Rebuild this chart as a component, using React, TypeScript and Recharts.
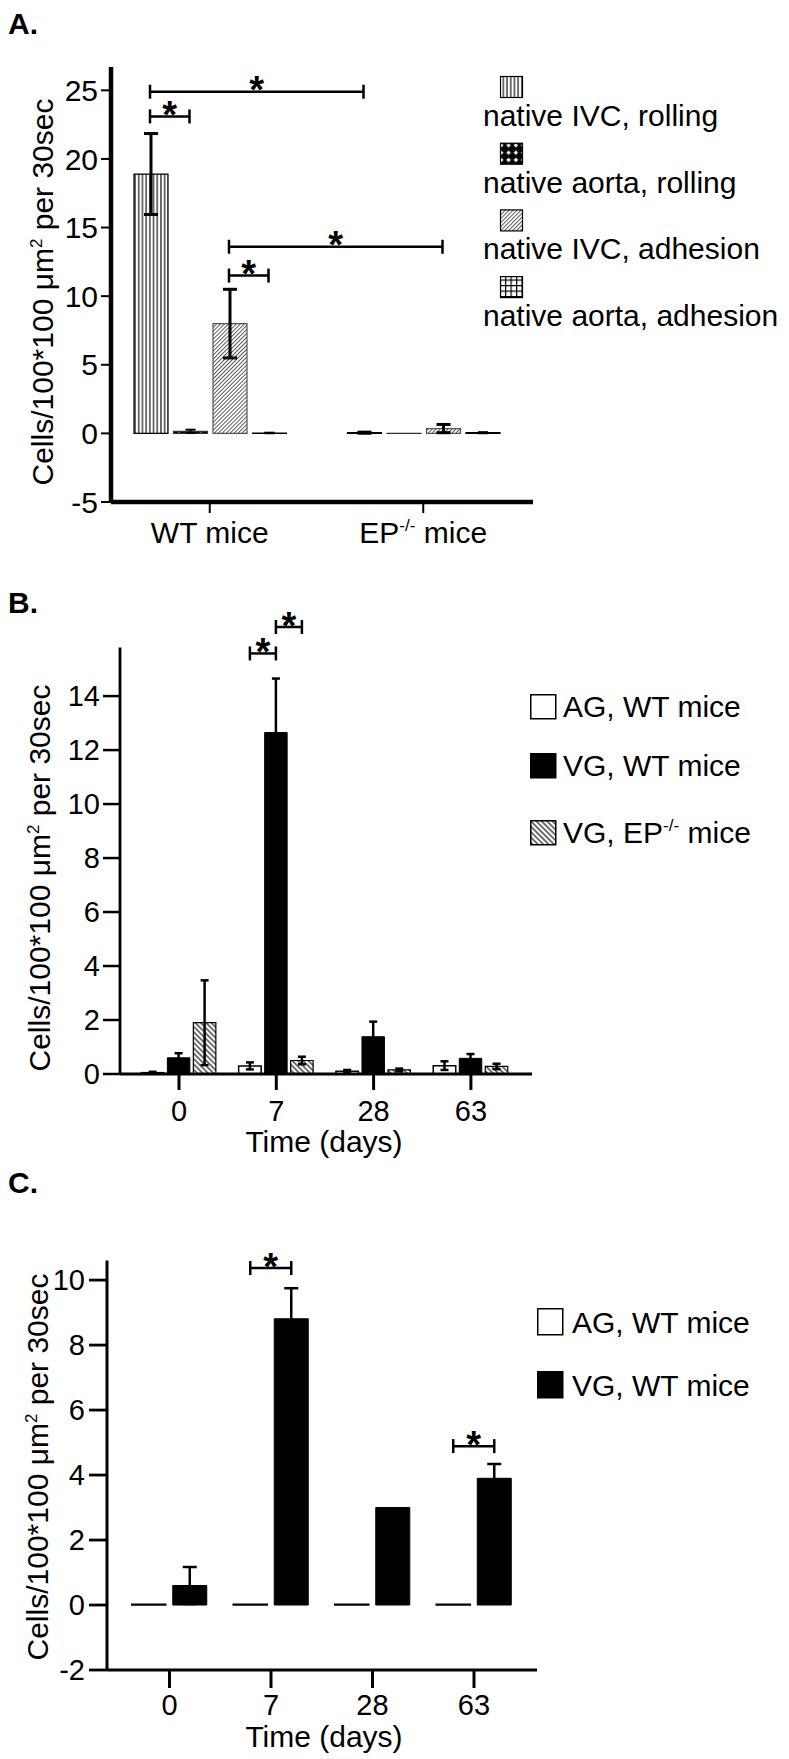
import React from 'react';
import { BarChart, Bar, XAxis, YAxis, ErrorBar, Legend } from 'recharts';

const FONT = '"Liberation Sans", Arial, Helvetica, sans-serif';
const PAGE_W = 789;
const PAGE_H = 1759;

// ---- panel A: native vessels ----
const groupsA = ['WT mice', 'EP-/- mice'];
const ivcRolling = [18.9, 0.05];
const ivcRollingErr = [2.95, 0.04];
const aortaRolling = [0.15, 0.01];
const aortaRollingErr = [0.12, 0];
const ivcAdhesion = [8.0, 0.35];
const ivcAdhesionErr = [2.5, 0.3];
const aortaAdhesion = [0.03, 0.05];
const aortaAdhesionErr = [0.02, 0.04];
const ticksA = [-5, 0, 5, 10, 15, 20, 25];

// ---- panel B: grafts, WT vs EP-/- ----
const days = ['0', '7', '28', '63'];
const agWT = [0.05, 0.3, 0.1, 0.31];
const agWTErr = [0.03, 0.13, 0.05, 0.16];
const vgWT = [0.6, 12.65, 1.38, 0.58];
const vgWTErr = [0.17, 2.0, 0.56, 0.16];
const vgEP = [1.9, 0.5, 0.15, 0.28];
const vgEPErr = [1.57, 0.14, 0.05, 0.1];
const ticksB = [0, 2, 4, 6, 8, 10, 12, 14];

// ---- panel C: grafts, WT only ----
const agWTC = [0.02, 0.02, 0.02, 0.02];
const vgWTC = [0.6, 8.81, 3.0, 3.9];
const vgWTCErr = [0.57, 0.94, 0, 0.44];
const ticksC = [-2, 0, 2, 4, 6, 8, 10];

// significance brackets: [category, bar] -> [category, bar] at a value level
const bracketsA = [
  { from: [0, 0], to: [1, 0], level: 24.9 },
  { from: [0, 0], to: [0, 1], level: 23.1 },
  { from: [0, 2], to: [1, 2], level: 13.6 },
  { from: [0, 2], to: [0, 3], level: 11.5 },
];
const bracketsB = [
  { from: [1, 0], to: [1, 1], level: 15.58 },
  { from: [1, 1], to: [1, 2], level: 16.56 },
];
const bracketsC = [
  { from: [1, 0], to: [1, 1], level: 10.37 },
  { from: [3, 0], to: [3, 1], level: 4.89 },
];

const dataA = groupsA.map((g, i) => ({
  group: g,
  ivcRolling: ivcRolling[i], ivcRollingErr: ivcRollingErr[i],
  aortaRolling: aortaRolling[i], aortaRollingErr: aortaRollingErr[i],
  ivcAdhesion: ivcAdhesion[i], ivcAdhesionErr: ivcAdhesionErr[i],
  aortaAdhesion: aortaAdhesion[i], aortaAdhesionErr: aortaAdhesionErr[i],
}));
const dataB = days.map((d, i) => ({
  day: d,
  agWT: agWT[i], agWTErr: agWTErr[i],
  vgWT: vgWT[i], vgWTErr: vgWTErr[i],
  vgEP: vgEP[i], vgEPErr: vgEPErr[i],
}));
const dataC = days.map((d, i) => ({
  day: d, agWT: agWTC[i], vgWT: vgWTC[i], vgWTErr: vgWTCErr[i],
}));

type Geo = {
  top: number; h: number; left: number; right: number; plotTop: number; plotBottom: number;
  padL: number; padR: number; dMin: number; dMax: number; barSize: number; gap: number;
  nBars: number; nCats: number;
};

const geoA: Geo = { top: 0, h: 560, left: 111, right: 533, plotTop: 67, plotBottom: 502, padL: -8, padR: 3, dMin: -5, dMax: 26.7, barSize: 34, gap: 5.5, nBars: 4, nCats: 2 };
const geoB: Geo = { top: 540, h: 620, left: 120, right: 532, plotTop: 647.5, plotBottom: 1074, padL: 10.35, padR: 12.45, dMin: 0, dMax: 15.8, barSize: 22.5, gap: 3.5, nBars: 3, nCats: 4 };
const geoC: Geo = { top: 1120, h: 639, left: 107, right: 537, plotTop: 1260.6, plotBottom: 1670, padL: 11.75, padR: 12.25, dMin: -2, dMax: 10.6, barSize: 34, gap: 7, nBars: 2, nCats: 4 };

const band = (g: Geo) => (g.right - g.left - g.padL - g.padR) / g.nCats;
const barCenter = (g: Geo, cat: number, slot: number) => {
  const b = band(g);
  const sum = g.nBars * g.barSize + (g.nBars - 1) * g.gap;
  const off = Math.trunc((b - sum) / 2);
  return g.left + g.padL + b * cat + off + slot * (g.barSize + g.gap) + g.barSize / 2;
};
const valueY = (g: Geo, v: number) =>
  g.plotTop + ((g.dMax - v) / (g.dMax - g.dMin)) * (g.plotBottom - g.plotTop);
const chartMargin = (g: Geo) => ({ top: g.plotTop - g.top, right: PAGE_W - g.right, bottom: 0, left: 0 });
const xAxisH = (g: Geo) => g.top + g.h - g.plotBottom;

// text with "-/-" raised as superscript
function supText(s: string, fs: number) {
  const parts = s.split('-/-');
  if (parts.length < 2) return s;
  return [
    parts[0],
    <tspan key="s" fontSize={fs * 0.57} dy={-fs * 0.4}>-/-</tspan>,
    <tspan key="r" dy={fs * 0.4}>{parts[1]}</tspan>,
  ];
}

const makeTick = (fs: number, dy: number) => (props: any) => {
  const { x, y, payload } = props;
  return (
    <text x={x} y={y + dy} textAnchor="middle" fontSize={fs} fontFamily={FONT} fill="#000">
      {supText(String(payload.value), fs)}
    </text>
  );
};

type SeriesStyle = { key: string; fill: string; stroke: string };

const styleA: SeriesStyle[] = [
  { key: 'ivcRolling', fill: 'url(#pVert)', stroke: '#000' },
  { key: 'aortaRolling', fill: 'url(#pCross)', stroke: '#000' },
  { key: 'ivcAdhesion', fill: 'url(#pDiagA)', stroke: '#555' },
  { key: 'aortaAdhesion', fill: 'url(#pGrid)', stroke: '#000' },
];
const styleB: SeriesStyle[] = [
  { key: 'agWT', fill: '#fff', stroke: '#000' },
  { key: 'vgWT', fill: '#000', stroke: '#000' },
  { key: 'vgEP', fill: 'url(#pDiagB)', stroke: '#000' },
];

const sortByStyle = (items: any[], styles: SeriesStyle[]) =>
  styles
    .map((s) => ({ s, it: items.find((i: any) => i.dataKey === s.key) }))
    .filter((p) => p.it);

const LegendA = (props: any) => {
  const rows = sortByStyle(props.payload || [], styleA);
  return (
    <svg width={300} height={280} style={{ display: 'block', overflow: 'visible' }}>
      {rows.map(({ s, it }, i) => {
        const top = i * 66.7;
        return (
          <g key={s.key}>
            <rect x={17.5} y={top + 0.5} width={22} height={21} fill={s.fill} stroke="#000" strokeWidth={1.2} />
            <text x={0} y={top + 50} fontSize={30} fontFamily={FONT} fill="#000">{it.value}</text>
          </g>
        );
      })}
    </svg>
  );
};

const makeSideLegend = (styles: SeriesStyle[], rowTops: number[], sw: number, sh: number, textX: number) => (props: any) => {
  const rows = sortByStyle(props.payload || [], styles);
  return (
    <svg width={260} height={200} style={{ display: 'block', overflow: 'visible' }}>
      {rows.map(({ s, it }, i) => {
        const top = rowTops[i];
        return (
          <g key={s.key}>
            <rect x={0.75} y={top + 0.75} width={sw} height={sh} fill={s.fill} stroke={s.stroke} strokeWidth={1.5} />
            <text x={textX} y={top + sh - 1} fontSize={30} fontFamily={FONT} fill="#000">
              {supText(String(it.value), 30)}
            </text>
          </g>
        );
      })}
    </svg>
  );
};

function Brackets({ g, list, fs }: { g: Geo; list: any[]; fs: number }) {
  return (
    <g>
      {list.map((b, i) => {
        const xa = barCenter(g, b.from[0], b.from[1]);
        const xb = barCenter(g, b.to[0], b.to[1]);
        const y = valueY(g, b.level);
        return (
          <g key={i} stroke="#000" strokeWidth={2.5}>
            <line x1={xa} x2={xb} y1={y} y2={y} />
            <line x1={xa} x2={xa} y1={y - 7} y2={y + 7} />
            <line x1={xb} x2={xb} y1={y - 7} y2={y + 7} />
            <text x={(xa + xb) / 2} y={y - 10 + 0.57 * fs} textAnchor="middle" fontSize={fs}
              fontWeight="bold" fontFamily={FONT} fill="#000" stroke="none">*</text>
          </g>
        );
      })}
    </g>
  );
}

function YLabel({ x, y }: { x: number; y: number }) {
  return (
    <text transform={`translate(${x},${y}) rotate(-90)`} textAnchor="middle" fontSize={30} fontFamily={FONT} fill="#000">
      Cells/100*100 μm<tspan fontSize={17} dy={-11}>2</tspan><tspan dy={11}> per 30sec</tspan>
    </text>
  );
}

const axisStyle = (w: number) => ({ stroke: '#000', strokeWidth: w });

export default function App() {
  return (
    <div style={{ position: 'relative', width: PAGE_W, height: PAGE_H, background: '#fff', fontFamily: FONT }}>
      <style>{'body{margin:0;background:#fff}'}</style>
      <svg width={0} height={0} style={{ position: 'absolute' }}>
        <defs>
          <pattern id="pVert" patternUnits="userSpaceOnUse" width={3.7} height={10}>
            <rect width={3.7} height={10} fill="#fff" />
            <line x1={1.85} y1={0} x2={1.85} y2={10} stroke="#000" strokeWidth={1.1} />
          </pattern>
          <pattern id="pDiagA" patternUnits="userSpaceOnUse" width={2.8} height={10} patternTransform="rotate(45)">
            <rect width={2.8} height={10} fill="#fff" />
            <line x1={1.4} y1={0} x2={1.4} y2={10} stroke="#444" strokeWidth={0.9} />
          </pattern>
          <pattern id="pDiagB" patternUnits="userSpaceOnUse" width={3.8} height={10} patternTransform="rotate(-45)">
            <rect width={3.8} height={10} fill="#fff" />
            <line x1={1.9} y1={0} x2={1.9} y2={10} stroke="#000" strokeWidth={1.1} />
          </pattern>
          <pattern id="pGrid" patternUnits="userSpaceOnUse" width={5.5} height={5.5}>
            <rect width={5.5} height={5.5} fill="#fff" />
            <line x1={0} y1={0.6} x2={5.5} y2={0.6} stroke="#000" strokeWidth={1.2} />
            <line x1={0.6} y1={0} x2={0.6} y2={5.5} stroke="#000" strokeWidth={1.2} />
          </pattern>
          <pattern id="pCross" patternUnits="userSpaceOnUse" width={7.3} height={7.3}>
            <rect width={7.3} height={7.3} fill="#000" />
            <rect x={2.9} y={1.6} width={1.5} height={4.1} fill="#fff" />
            <rect x={1.6} y={2.9} width={4.1} height={1.5} fill="#fff" />
          </pattern>
        </defs>
      </svg>

      {/* Panel A */}
      <div style={{ position: 'absolute', left: 0, top: geoA.top }}>
        <BarChart width={PAGE_W} height={geoA.h} data={dataA} margin={chartMargin(geoA)} barSize={geoA.barSize} barGap={geoA.gap}>
          <XAxis dataKey="group" height={xAxisH(geoA)} padding={{ left: geoA.padL, right: geoA.padR }}
            axisLine={axisStyle(4.5)} tickLine={axisStyle(2)} tickSize={11} tickMargin={0} interval={0}
            tick={makeTick(30, 30)} />
          <YAxis type="number" width={geoA.left} domain={[geoA.dMin, geoA.dMax]} ticks={ticksA} interval={0}
            allowDataOverflow axisLine={axisStyle(4.5)} tickLine={axisStyle(2)} tickSize={10} tickMargin={3}
            tick={{ fill: '#000', fontSize: 30, fontFamily: FONT }} />
          <Bar dataKey="ivcRolling" name="native IVC, rolling" fill="url(#pVert)" stroke="#000" strokeWidth={1.2} isAnimationActive={false}>
            <ErrorBar dataKey="ivcRollingErr" width={7} stroke="#000" strokeWidth={3} direction="y" />
          </Bar>
          <Bar dataKey="aortaRolling" name="native aorta, rolling" fill="url(#pCross)" stroke="#333" strokeWidth={1.2} isAnimationActive={false}>
            <ErrorBar dataKey="aortaRollingErr" width={5} stroke="#000" strokeWidth={2} direction="y" />
          </Bar>
          <Bar dataKey="ivcAdhesion" name="native IVC, adhesion" fill="url(#pDiagA)" stroke="#555" strokeWidth={1.2} isAnimationActive={false}>
            <ErrorBar dataKey="ivcAdhesionErr" width={7} stroke="#000" strokeWidth={3} direction="y" />
          </Bar>
          <Bar dataKey="aortaAdhesion" name="native aorta, adhesion" fill="url(#pGrid)" stroke="#000" strokeWidth={1.2} isAnimationActive={false}>
            <ErrorBar dataKey="aortaAdhesionErr" width={5} stroke="#000" strokeWidth={2} direction="y" />
          </Bar>
          <Legend layout="vertical" align="center" verticalAlign="middle"
            wrapperStyle={{ left: 483, top: 76, right: 'auto', bottom: 'auto', width: 300, height: 280 }}
            content={LegendA} />
        </BarChart>
      </div>

      {/* Panel B */}
      <div style={{ position: 'absolute', left: 0, top: geoB.top }}>
        <BarChart width={PAGE_W} height={geoB.h} data={dataB} margin={chartMargin(geoB)} barSize={geoB.barSize} barGap={geoB.gap}>
          <XAxis dataKey="day" height={xAxisH(geoB)} padding={{ left: geoB.padL, right: geoB.padR }}
            axisLine={axisStyle(3.2)} tickLine={axisStyle(3)} tickSize={16} tickMargin={0} interval={0}
            tick={makeTick(29, 31)} />
          <YAxis type="number" width={geoB.left} domain={[geoB.dMin, geoB.dMax]} ticks={ticksB} interval={0}
            allowDataOverflow axisLine={axisStyle(2.8)} tickLine={axisStyle(2.5)} tickSize={17} tickMargin={3}
            tick={{ fill: '#000', fontSize: 29, fontFamily: FONT }} />
          <Bar dataKey="agWT" name="AG, WT mice" fill="#fff" stroke="#000" strokeWidth={1.5} isAnimationActive={false}>
            <ErrorBar dataKey="agWTErr" width={4} stroke="#000" strokeWidth={2.5} direction="y" />
          </Bar>
          <Bar dataKey="vgWT" name="VG, WT mice" fill="#000" stroke="#000" strokeWidth={1} isAnimationActive={false}>
            <ErrorBar dataKey="vgWTErr" width={4} stroke="#000" strokeWidth={2.5} direction="y" />
          </Bar>
          <Bar dataKey="vgEP" name="VG, EP-/- mice" fill="url(#pDiagB)" stroke="#000" strokeWidth={1.2} isAnimationActive={false}>
            <ErrorBar dataKey="vgEPErr" width={4} stroke="#000" strokeWidth={2.5} direction="y" />
          </Bar>
          <Legend layout="vertical" align="center" verticalAlign="middle"
            wrapperStyle={{ left: 530, top: 694 - geoB.top, right: 'auto', bottom: 'auto', width: 260, height: 200 }}
            content={makeSideLegend(styleB, [0, 59, 126], 25, 24, 33)} />
        </BarChart>
      </div>

      {/* Panel C */}
      <div style={{ position: 'absolute', left: 0, top: geoC.top }}>
        <BarChart width={PAGE_W} height={geoC.h} data={dataC} margin={chartMargin(geoC)} barSize={geoC.barSize} barGap={geoC.gap}>
          <XAxis dataKey="day" height={xAxisH(geoC)} padding={{ left: geoC.padL, right: geoC.padR }}
            axisLine={axisStyle(3.2)} tickLine={axisStyle(3)} tickSize={18} tickMargin={0} interval={0}
            tick={makeTick(29, 27)} />
          <YAxis type="number" width={geoC.left} domain={[geoC.dMin, geoC.dMax]} ticks={ticksC} interval={0}
            allowDataOverflow axisLine={axisStyle(3)} tickLine={axisStyle(2.8)} tickSize={18} tickMargin={4}
            tick={{ fill: '#000', fontSize: 29, fontFamily: FONT }} />
          <Bar dataKey="agWT" name="AG, WT mice" fill="#fff" stroke="#000" strokeWidth={1.5} isAnimationActive={false} />
          <Bar dataKey="vgWT" name="VG, WT mice" fill="#000" stroke="#000" strokeWidth={1} isAnimationActive={false}>
            <ErrorBar dataKey="vgWTErr" width={7} stroke="#000" strokeWidth={2.5} direction="y" />
          </Bar>
          <Legend layout="vertical" align="center" verticalAlign="middle"
            wrapperStyle={{ left: 537, top: 1308 - geoC.top, right: 'auto', bottom: 'auto', width: 260, height: 150 }}
            content={makeSideLegend(styleB.slice(0, 2), [0, 63], 25, 26, 35)} />
        </BarChart>
      </div>

      {/* annotations: panel letters, axis titles, significance brackets */}
      <svg width={PAGE_W} height={PAGE_H} style={{ position: 'absolute', left: 0, top: 0, pointerEvents: 'none' }}>
        <g fontFamily={FONT} fill="#000">
          <text x={8} y={34} fontSize={30} fontWeight="bold">A.</text>
          <text x={8} y={613} fontSize={30} fontWeight="bold">B.</text>
          <text x={8} y={1193} fontSize={30} fontWeight="bold">C.</text>
          <text x={324} y={1152} fontSize={30} textAnchor="middle">Time (days)</text>
          <text x={324} y={1747} fontSize={30} textAnchor="middle">Time (days)</text>
        </g>
        <YLabel x={53} y={292} />
        <YLabel x={50} y={878} />
        <YLabel x={48} y={1467} />
        <Brackets g={geoA} list={bracketsA} fs={38} />
        <Brackets g={geoB} list={bracketsB} fs={38} />
        <Brackets g={geoC} list={bracketsC} fs={38} />
      </svg>
    </div>
  );
}
